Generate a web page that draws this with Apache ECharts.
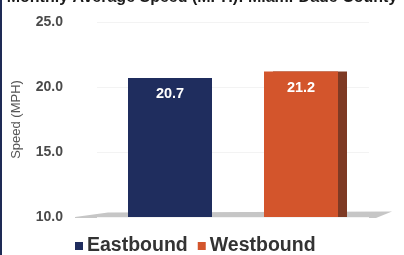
<!DOCTYPE html>
<html><head><meta charset="utf-8">
<script src="https://cdn.jsdelivr.net/npm/echarts@6/dist/echarts.min.js"></script>
<style>html,body{margin:0;padding:0;background:#fff}#c{width:404px;height:255px}</style>
</head><body><div id="c"></div>
<script>
const categories = ['Eastbound', 'Westbound'];
const eastbound = [20.7, '-'];
const westbound = ['-', 21.2];
const yTicks = [10, 15, 20, 25];

const chart = echarts.init(document.getElementById('c'), null, {renderer: 'canvas'});
chart.setOption({
  backgroundColor: '#fff',
  animation: false,
  title: {
    text: 'Monthly Average Speed (MPH): Miami-Dade County',
    left: 'center', top: -15,
    textStyle: {fontFamily: 'Liberation Sans', fontSize: 16, fontWeight: 'bold', color: '#1a1a1a'}
  },
  graphic: [
    {type: 'rect', shape: {x: 0, y: 0, width: 2, height: 255}, style: {fill: '#1e2a55'}, z: 10},
    {type: 'polygon', shape: {points: [[75, 217], [108, 212.5], [392, 211.5], [376, 218], [75, 218]]},
     style: {fill: '#c6c6c6'}, z: 0}
  ],
  legend: {
    top: 236, left: 75, itemGap: 10, itemWidth: 8, itemHeight: 8, icon: 'rect', padding: 0,
    textStyle: {fontFamily: 'Liberation Sans', fontSize: 19.5, fontWeight: 'bold', color: '#333', padding: [2, 0, 0, -1]},
    data: categories
  },
  grid: {left: 97, right: 35, top: 22, bottom: 38},
  xAxis: {
    type: 'category', data: categories,
    axisLine: {show: false},
    axisTick: {show: false}, axisLabel: {show: false}
  },
  yAxis: {
    type: 'value', min: yTicks[0], max: yTicks[yTicks.length - 1], interval: 5,
    name: 'Speed (MPH)', nameLocation: 'middle', nameGap: 74,
    nameTextStyle: {fontFamily: 'Liberation Sans', fontSize: 13, color: '#555'},
    axisLine: {show: false}, axisTick: {show: false},
    axisLabel: {margin: 34, formatter: v => v.toFixed(1),
      fontFamily: 'Liberation Sans', fontSize: 14, fontWeight: 'bold', color: '#4a4a4a'},
    splitLine: {lineStyle: {color: '#f3f3f3'}}
  },
  series: [
    {name: 'Eastbound', type: 'bar', data: eastbound, barWidth: 84, barGap: '-100%', z: 3,
     itemStyle: {color: '#1f2d5e'},
     label: {show: true, position: 'insideTop', distance: 9, formatter: p => p.value.toFixed(1),
       fontFamily: 'Liberation Sans', fontSize: 14.5, fontWeight: 'bold', color: '#fff'}},
    {name: 'Westbound', type: 'bar', data: westbound, barWidth: 74, z: 3,
     itemStyle: {color: '#d3552c', shadowColor: '#7e3a24', shadowOffsetX: 9, shadowOffsetY: 0, shadowBlur: 0},
     label: {show: true, position: 'insideTop', distance: 9, formatter: p => p.value.toFixed(1),
       fontFamily: 'Liberation Sans', fontSize: 14.5, fontWeight: 'bold', color: '#fff'}}
  ]
});
</script></body></html>
